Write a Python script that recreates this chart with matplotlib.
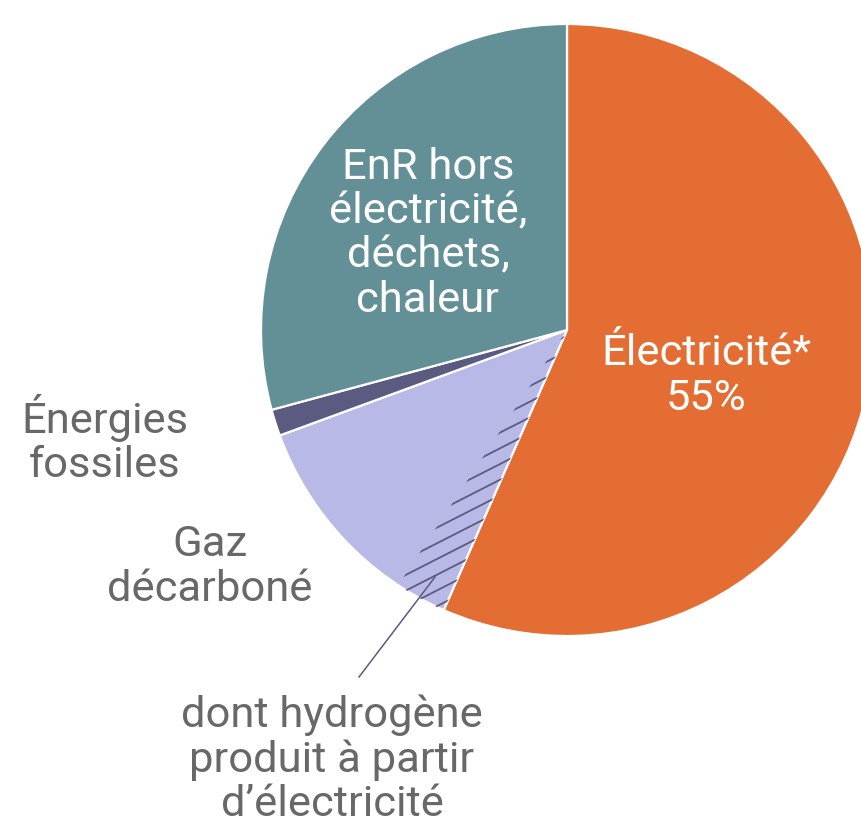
import numpy as np
import matplotlib.pyplot as plt
from matplotlib.patches import Wedge

plt.rcParams['font.family'] = ['Roboto', 'DejaVu Sans']

# shares of final energy (%), clockwise from the top
categories = ["Électricité", "Gaz décarboné", "Énergies fossiles", "EnR hors électricité"]
shares = [56.6, 12.8, 1.4, 29.2]
hydrogen_share = 2.7  # part of "Gaz décarboné" made from electricity
colors = ["#E46D33", "#B9B9E8", "#5B5A80", "#638F96"]

labels_in = {
    0: "Électricité*\n55%",
    3: "EnR hors\nélectricité,\ndéchets,\nchaleur",
}

W, H = 862, 824
fig = plt.figure(figsize=(W / 100, H / 100), dpi=100)
ax = fig.add_axes([0, 0, 1, 1])

cx, cy, r = 567, H - 330, 306
wedges, _ = ax.pie(shares, colors=colors, startangle=90, counterclock=False,
                   center=(cx, cy), radius=r,
                   wedgeprops=dict(edgecolor="white", linewidth=1.6))

# hydrogen part: hatched sub-wedge of the gas slice, next to electricity
gas = wedges[1]
h_theta2 = gas.theta2
h_theta1 = h_theta2 - 360 * hydrogen_share / 100
clip = Wedge((cx, cy), r, h_theta1, h_theta2, transform=ax.transData,
             facecolor="none", edgecolor="none")
ax.add_patch(clip)

ang = np.deg2rad(27)
d = np.array([np.cos(ang), np.sin(ang)])
n = np.array([-np.sin(ang), np.cos(ang)])
base = np.array([550.0, H - 360.0])
for k in range(-30, 30):
    p = base + n * 14 * k
    seg = np.array([p - d * 400, p + d * 400])
    ln, = ax.plot(seg[:, 0], seg[:, 1], color="#5B5A80", lw=1.3,
                  solid_capstyle="butt")
    ln.set_clip_path(clip)

# leader line to the hydrogen label
ax.plot([435, 359], [H - 577, H - 677], color="#5B5A80", lw=1.1)

fs = 31.3
ls = 1.1
ax.text(706, H - 376, labels_in[0], color="white", fontsize=fs,
        ha="center", va="center", linespacing=ls)
ax.text(428, H - 234, labels_in[3], color="white", fontsize=fs,
        ha="center", va="center", linespacing=ls)

grey = "#686868"
ax.text(105, H - 440, "Énergies\nfossiles", color=grey, fontsize=fs,
        ha="center", va="center", linespacing=ls)
ax.text(210, H - 567, "Gaz\ndécarboné", color=grey, fontsize=fs,
        ha="center", va="center", linespacing=ls)
ax.text(332, H - 760, "dont hydrogène\nproduit à partir\nd’électricité", color=grey,
        fontsize=fs, ha="center", va="center", linespacing=ls)

ax.set_xlim(0, W)
ax.set_ylim(0, H)
ax.set_aspect("equal")
ax.axis("off")

fig.savefig("out.png", dpi=100, facecolor="white")
